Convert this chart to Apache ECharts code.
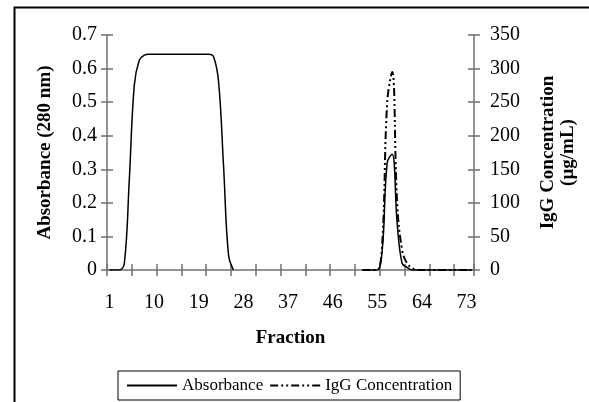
<!DOCTYPE html>
<html>
<head>
<meta charset="utf-8">
<script src="https://cdn.jsdelivr.net/npm/echarts@6/dist/echarts.min.js"></script>
<style>
html,body{margin:0;padding:0;background:#fff;}
#c{width:589px;height:402px;}
</style>
</head>
<body>
<div id="c"></div>
<script>
var fractions = ['1','2','3','4','5','6','7','8','9','10','11','12','13','14','15','16','17','18','19','20',
  '21','22','23','24','25','26','27','28','29','30','31','32','33','34','35','36','37','38','39','40',
  '41','42','43','44','45','46','47','48','49','50','51','52','53','54','55','56','57','58','59','60',
  '61','62','63','64','65','66','67','68','69','70','71','72','73','74'];

var absorbance = [0,0,0,0.02,0.27,0.55,0.625,0.64,
  0.643,0.643,0.643,0.643,0.643,0.643,0.643,0.643,0.643,0.643,0.643,0.643,0.643,
  0.635,0.56,0.31,0.045,0,
  null,null,null,null,null,null,null,null,null,null,null,null,null,null,null,null,null,null,null,null,null,null,null,null,null,
  0,0,0,0,0.06,0.32,0.345,0.14,0.02,0.008,
  0,0,0,0,0,0,0,0,0,0,0,0,0];

var iggConcentration = [null,null,null,null,null,null,null,null,null,null,null,null,null,null,null,null,null,null,null,null,
  null,null,null,null,null,null,null,null,null,null,null,null,null,null,null,null,null,null,null,null,
  null,null,null,null,null,null,null,null,null,null,null,
  0,0,0,0,40,250,295,100,30,10,3,
  0,0,0,0,0,0,0,0,0,0,0,0];

var FONT = 'Liberation Serif';
var axisGrey = '#707070';

var chart = echarts.init(document.getElementById('c'), null, {renderer:'canvas'});
var option = {
  backgroundColor: '#fff',
  animation: false,
  textStyle: {fontFamily: FONT, color: '#000'},
  graphic: [{
    type: 'rect', left: 12, top: 5, silent: true,
    shape: {x: 0, y: 0, width: 620, height: 430},
    style: {fill: 'none', stroke: '#000', lineWidth: 2}
  }],
  grid: {left: 107, right: 115, top: 35, bottom: 132, containLabel: false},
  legend: {
    left: 118, top: 371,
    padding: [6, 8],
    itemWidth: 50, itemHeight: 10, itemGap: 6,
    borderColor: '#000', borderWidth: 1,
    itemStyle: {color: 'transparent', borderColor: 'transparent', borderWidth: 0, opacity: 0},
    textStyle: {fontFamily: FONT, fontSize: 17, color: '#000'},
    data: ['Absorbance', 'IgG Concentration']
  },
  xAxis: [{
    type: 'category', data: fractions, position: 'bottom', boundaryGap: true,
    name: 'Fraction', nameLocation: 'middle', nameGap: 59,
    nameTextStyle: {fontFamily: FONT, fontSize: 19, fontWeight: 'bold', color: '#000'},
    axisLine: {show: true, onZero: false, lineStyle: {color: axisGrey, width: 1.5}},
    axisTick: {show: true, inside: false, length: 6, interval: 4, lineStyle: {color: axisGrey, width: 1.5}},
    axisLabel: {interval: 8, margin: 23, fontFamily: FONT, fontSize: 20, color: '#000'},
    splitLine: {show: false}
  }, {
    type: 'category', data: fractions, position: 'bottom', boundaryGap: true,
    axisLine: {show: false, onZero: false},
    axisTick: {show: true, inside: true, length: 6, interval: 4, lineStyle: {color: axisGrey, width: 1.5}},
    axisLabel: {show: false},
    splitLine: {show: false}
  }],
  yAxis: [{
    type: 'value', position: 'left', min: 0, max: 0.7, interval: 0.1,
    name: 'Absorbance (280 nm)', nameLocation: 'middle', nameGap: 52, nameRotate: 90,
    nameTextStyle: {fontFamily: FONT, fontSize: 19, fontWeight: 'bold', color: '#000'},
    axisLine: {show: true, onZero: false, lineStyle: {color: axisGrey, width: 1.5}},
    axisTick: {show: true, inside: false, length: 6, lineStyle: {color: axisGrey, width: 1.5}},
    axisLabel: {margin: 10, fontFamily: FONT, fontSize: 20, color: '#000',
      formatter: function (v) { return v === 0 ? '0' : v.toFixed(1); }},
    splitLine: {show: false}
  }, {
    type: 'value', position: 'right', min: 0, max: 350, interval: 50,
    name: 'IgG Concentration\n(µg/mL)', nameLocation: 'middle', nameGap: 64, nameRotate: 90,
    nameTextStyle: {fontFamily: FONT, fontSize: 19, fontWeight: 'bold', color: '#000', lineHeight: 20, align: 'center'},
    axisLine: {show: true, onZero: false, lineStyle: {color: axisGrey, width: 1.5}},
    axisTick: {show: true, inside: false, length: 6, lineStyle: {color: axisGrey, width: 1.5}},
    axisLabel: {margin: 16, fontFamily: FONT, fontSize: 20, color: '#000'},
    splitLine: {show: false}
  }, {
    type: 'value', position: 'left', min: 0, max: 0.7, interval: 0.1,
    axisLine: {show: false, onZero: false},
    axisTick: {show: true, inside: true, length: 6, lineStyle: {color: axisGrey, width: 1.5}},
    axisLabel: {show: false}, splitLine: {show: false}
  }, {
    type: 'value', position: 'right', min: 0, max: 350, interval: 50,
    axisLine: {show: false, onZero: false},
    axisTick: {show: true, inside: true, length: 6, lineStyle: {color: axisGrey, width: 1.5}},
    axisLabel: {show: false}, splitLine: {show: false}
  }],
  series: [{
    name: 'Absorbance', type: 'line', xAxisIndex: 0, yAxisIndex: 0,
    data: absorbance, symbol: 'none', smooth: 0.4, connectNulls: false,
    lineStyle: {color: '#000', width: 1.5, type: 'solid'},
    itemStyle: {color: '#000'}, z: 3
  }, {
    name: 'IgG Concentration', type: 'line', xAxisIndex: 0, yAxisIndex: 1,
    data: iggConcentration, symbol: 'none', smooth: 0.4, connectNulls: false,
    lineStyle: {color: '#000', width: 2, type: [8, 3, 2, 3, 2, 3]},
    itemStyle: {color: '#000'}, z: 4
  }]
};
chart.setOption(option);
</script>
</body>
</html>
